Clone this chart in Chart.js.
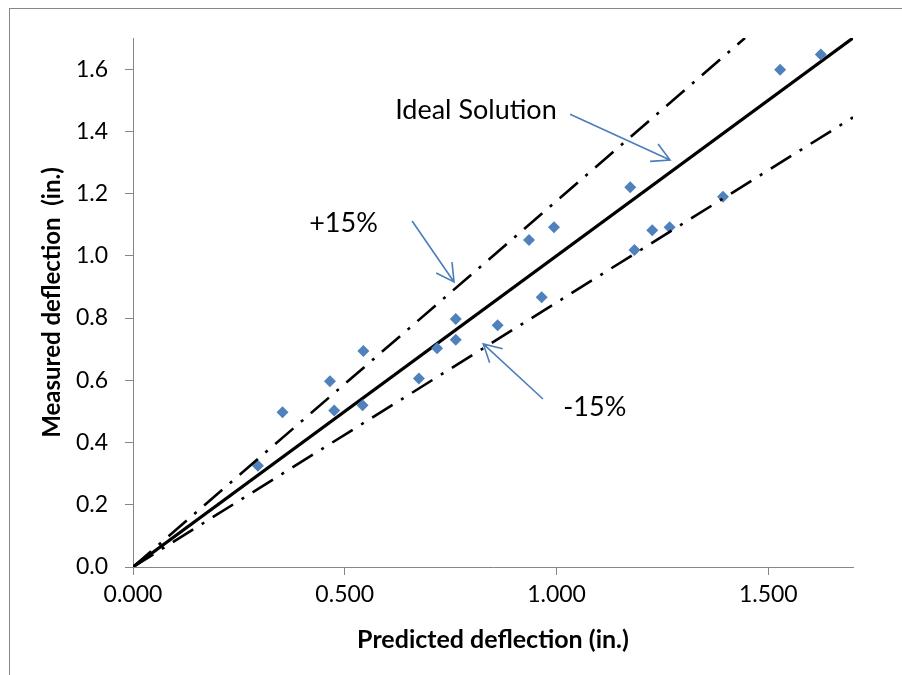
<!DOCTYPE html>
<html>
<head>
<meta charset="utf-8">
<script src="https://cdn.jsdelivr.net/npm/chart.js@4/dist/chart.umd.min.js"></script>
<style>
  html, body { margin: 0; padding: 0; background: #ffffff; }
  #wrap { width: 902px; height: 675px; position: relative; }
</style>
</head>
<body>
<div id="wrap"><canvas id="c" width="902" height="675"></canvas></div>
<script>
// ---- data ----
const predicted = [0.295, 0.353, 0.465, 0.475, 0.544, 0.542, 0.675, 0.718, 0.762, 0.762, 0.861,
                   0.935, 0.965, 0.994, 1.174, 1.184, 1.226, 1.267, 1.393, 1.528, 1.624];
const measured  = [0.325, 0.497, 0.597, 0.503, 0.694, 0.520, 0.606, 0.703, 0.797, 0.730, 0.777,
                   1.051, 0.867, 1.092, 1.220, 1.019, 1.082, 1.092, 1.190, 1.598, 1.647];
const idealX   = [0, 1.7];
const idealY   = [0, 1.7];
const plus15X  = [0, 1.445];
const plus15Y  = [0, 1.7];
const minus15X = [0, 1.7];
const minus15Y = [0, 1.445];
const xTicks = [0, 0.5, 1.0, 1.5];
const yTicks = [0, 0.2, 0.4, 0.6, 0.8, 1.0, 1.2, 1.4, 1.6];
const xTitle = 'Predicted deflection (in.)';
const yTitle = 'Measured deflection  (in.)';
const labels = ['Ideal Solution', '+15%', '-15%'];
// annotation anchors in data units: [textX, textY, arrowFromX, arrowFromY, arrowToX, arrowToY]
const notes = [
  [0.619, 1.468, 1.032, 1.455, 1.268, 1.308],
  [0.416, 1.105, 0.659, 1.112, 0.758, 0.916],
  [1.016, 0.514, 0.968, 0.540, 0.827, 0.717]
];

const zip = (xs, ys) => xs.map((x, i) => ({ x, y: ys[i] }));
const FONT = 'Lato, "Liberation Sans", sans-serif';
const AXIS_GRAY = '#868686';
const ARROW = '#4a7ebb';

const frame = {
  id: 'frame',
  beforeDraw(chart) {
    const ctx = chart.ctx;
    ctx.save();
    ctx.fillStyle = '#fff';
    ctx.fillRect(0, 0, chart.width, chart.height);
    ctx.strokeStyle = AXIS_GRAY;
    ctx.lineWidth = 1;
    ctx.strokeRect(9.5, 8.5, 2000, 2000);
    ctx.restore();
  }
};

const annot = {
  id: 'annot',
  afterDatasetsDraw(chart) {
    const ctx = chart.ctx, xs = chart.scales.x, ys = chart.scales.y;
    ctx.save();
    ctx.font = '27px ' + FONT;
    ctx.fillStyle = '#000';
    ctx.textBaseline = 'middle';
    ctx.textAlign = 'left';
    notes.forEach((n, i) => {
      ctx.fillText(labels[i], xs.getPixelForValue(n[0]), ys.getPixelForValue(n[1]));
      const x1 = xs.getPixelForValue(n[2]), y1 = ys.getPixelForValue(n[3]);
      const x2 = xs.getPixelForValue(n[4]), y2 = ys.getPixelForValue(n[5]);
      ctx.strokeStyle = ARROW;
      ctx.lineWidth = 1.6;
      ctx.beginPath();
      ctx.moveTo(x1, y1); ctx.lineTo(x2, y2);
      const a = Math.atan2(y2 - y1, x2 - x1) + Math.PI;
      const L = 20, h = 0.5;
      ctx.moveTo(x2 + L * Math.cos(a - h), y2 + L * Math.sin(a - h));
      ctx.lineTo(x2, y2);
      ctx.lineTo(x2 + L * Math.cos(a + h), y2 + L * Math.sin(a + h));
      ctx.stroke();
    });
    ctx.restore();
  }
};

const dashDot = [24, 10, 3, 10];

new Chart(document.getElementById('c'), {
  type: 'scatter',
  data: {
    datasets: [
      { label: 'Ideal', data: zip(idealX, idealY), showLine: true, borderColor: '#000', borderWidth: 3.2,
        pointRadius: 0, order: 3 },
      { label: 'Measured', data: zip(predicted, measured), pointStyle: 'rectRot', pointRadius: 6,
        backgroundColor: '#4f81bd', borderColor: '#4f81bd', borderWidth: 0, order: 2 },
      { label: '+15%', data: zip(plus15X, plus15Y), showLine: true, borderColor: '#000', borderWidth: 2.6,
        borderDash: dashDot, pointRadius: 0, order: 1 },
      { label: '-15%', data: zip(minus15X, minus15Y), showLine: true, borderColor: '#000', borderWidth: 2.6,
        borderDash: dashDot, pointRadius: 0, order: 1 }
    ]
  },
  options: {
    responsive: false,
    animation: false,
    events: [],
    layout: { padding: { left: 0, top: 38, right: 49, bottom: 0 } },
    plugins: { legend: { display: false }, tooltip: { enabled: false } },
    scales: {
      x: {
        type: 'linear', min: 0, max: 1.7,
        afterBuildTicks: s => { s.ticks = xTicks.map(v => ({ value: v })); },
        afterFit: s => { s.height = 108; },
        grid: { drawOnChartArea: false, drawTicks: true, tickLength: 8, tickColor: AXIS_GRAY },
        border: { color: AXIS_GRAY, width: 1 },
        ticks: { color: '#000', font: { family: FONT, size: 23 }, padding: 6, maxRotation: 0,
                 callback: v => Number(v).toFixed(3) },
        title: { display: true, text: xTitle, color: '#000', font: { family: FONT, size: 25, weight: 'bold' },
                 padding: { top: 0, bottom: 20 } }
      },
      y: {
        type: 'linear', min: 0, max: 1.7,
        afterBuildTicks: s => { s.ticks = yTicks.map(v => ({ value: v })); },
        afterFit: s => { s.width = 133; },
        grid: { drawOnChartArea: false, drawTicks: true, tickLength: 8, tickColor: AXIS_GRAY },
        border: { color: AXIS_GRAY, width: 1 },
        ticks: { color: '#000', font: { family: FONT, size: 23 }, padding: 17,
                 callback: v => Number(v).toFixed(1) },
        title: { display: true, text: yTitle, color: '#000', font: { family: FONT, size: 24, weight: 'bold' },
                 padding: { top: 38, bottom: 0 } }
      }
    }
  },
  plugins: [frame, annot]
});
</script>
</body>
</html>
